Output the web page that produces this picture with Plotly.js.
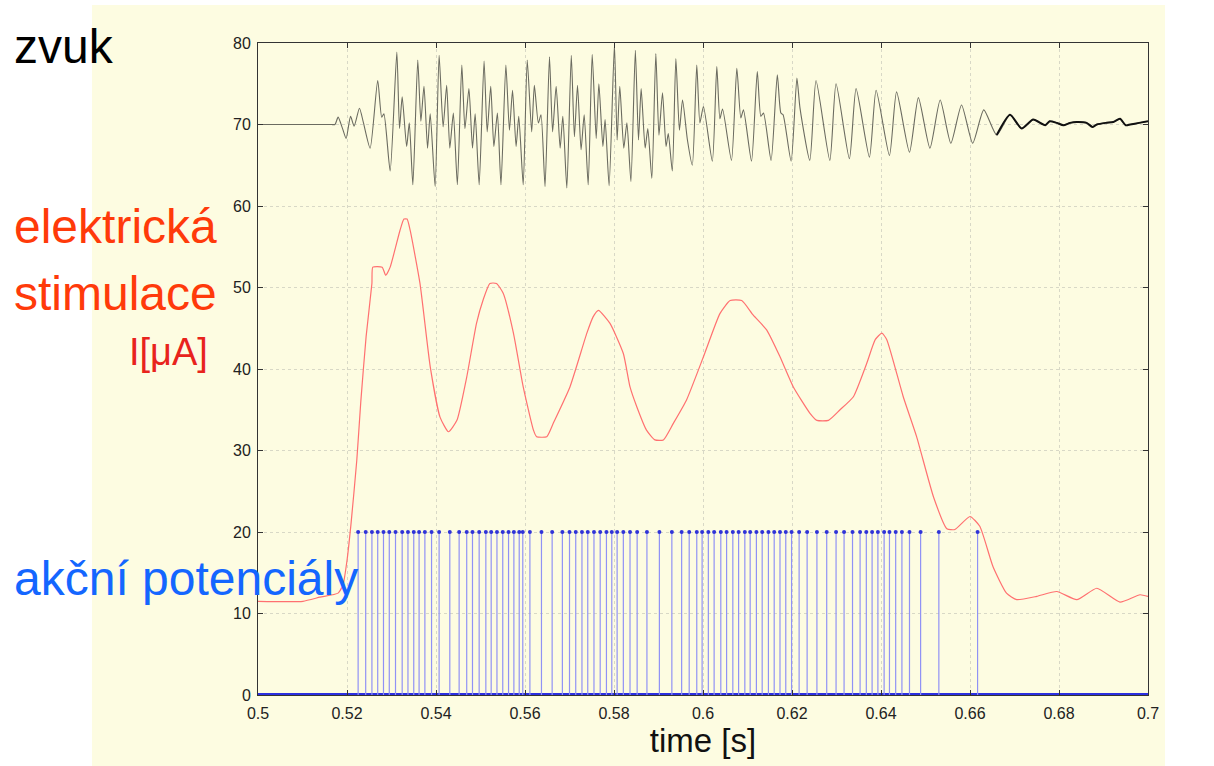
<!DOCTYPE html>
<html>
<head>
<meta charset="utf-8">
<script src="https://cdn.plot.ly/plotly-3.0.1.min.js"></script>
<style>
html,body{margin:0;padding:0;background:#ffffff;}
#chart{width:1214px;height:766px;}
</style>
</head>
<body>
<div id="chart"></div>
<script>
// ---- sound ("zvuk") waveform ----
const soundT = [0.5000,0.5100,0.5165,0.5173,0.5180,0.5190,0.5198,0.5208,0.5216,0.5228,0.5237,0.5252,0.5269,0.5278,0.5283,0.5297,0.5312,0.5318,0.5324,0.5334,0.5340,0.5348,0.5359,0.5366,0.5373,0.5381,0.5387,0.5398,0.5407,0.5416,0.5424,0.5431,0.5439,0.5448,0.5458,0.5465,0.5474,0.5482,0.5488,0.5497,0.5508,0.5515,0.5523,0.5530,0.5538,0.5546,0.5557,0.5565,0.5572,0.5580,0.5586,0.5596,0.5605,0.5615,0.5621,0.5630,0.5636,0.5645,0.5655,0.5662,0.5670,0.5679,0.5685,0.5694,0.5704,0.5711,0.5718,0.5726,0.5733,0.5742,0.5751,0.5760,0.5766,0.5775,0.5780,0.5789,0.5801,0.5807,0.5813,0.5822,0.5829,0.5838,0.5848,0.5855,0.5861,0.5870,0.5876,0.5885,0.5894,0.5901,0.5909,0.5917,0.5922,0.5931,0.5939,0.5947,0.5954,0.5965,0.5976,0.5986,0.5993,0.6001,0.6021,0.6031,0.6038,0.6044,0.6064,0.6076,0.6085,0.6091,0.6109,0.6122,0.6130,0.6136,0.6153,0.6167,0.6175,0.6180,0.6198,0.6211,0.6218,0.6240,0.6254,0.6285,0.6299,0.6329,0.6344,0.6374,0.6389,0.6419,0.6435,0.6464,0.6484,0.6510,0.6533,0.6557,0.6581,0.6606,0.6631,0.6660,0.6690,0.6716,0.6742,0.6769,0.6779,0.6795,0.6810,0.6825,0.6840,0.6862,0.6875,0.6885,0.6905,0.6922,0.6937,0.6950,0.6960,0.6980,0.7000];
const soundV = [70.0,70.0,70.0,70.0,70.9,69.5,68.3,71.0,69.8,72.0,70.2,67.1,75.4,70.9,71.3,64.3,78.9,69.5,73.4,67.3,70.2,62.6,77.9,70.4,74.7,67.1,71.3,62.4,78.5,69.7,74.8,67.1,71.4,62.6,77.3,69.5,74.4,67.1,71.3,62.6,77.8,69.1,74.7,67.3,71.4,62.6,77.3,69.3,74.2,67.3,71.0,62.6,77.9,69.1,74.8,70.2,71.2,62.4,78.3,69.1,74.7,67.1,71.0,62.2,78.5,68.5,74.8,66.9,71.2,62.6,78.6,68.3,75.0,67.3,70.6,62.5,79.8,68.1,74.7,67.1,70.2,63.0,79.1,68.1,74.4,67.1,69.5,63.4,78.7,68.7,73.9,67.3,68.9,64.3,78.1,69.3,73.0,68.1,65.0,77.3,70.2,72.2,65.5,77.1,70.7,71.9,65.6,76.9,70.8,71.8,65.5,76.5,71.0,71.4,65.6,76.1,71.4,71.2,65.5,75.7,72.0,65.6,75.4,65.6,75.0,65.8,74.4,66.0,74.2,66.2,74.0,66.6,73.3,67.1,73.0,67.7,72.4,67.7,71.8,68.7,71.2,69.5,70.6,69.9,70.4,70.2,69.9,70.2,70.3,70.2,69.7,70.0,70.2,70.3,70.7,69.9,70.0,70.2,70.4,70.2];

// ---- electrical stimulation current I [uA] ----
const stimT = [0.5000,0.5101,0.5139,0.5180,0.5191,0.5200,0.5209,0.5222,0.5231,0.5243,0.5256,0.5258,0.5279,0.5287,0.5297,0.5319,0.5328,0.5335,0.5342,0.5364,0.5387,0.5409,0.5428,0.5447,0.5469,0.5491,0.5506,0.5521,0.5536,0.5551,0.5574,0.5596,0.5619,0.5626,0.5649,0.5664,0.5701,0.5739,0.5753,0.5765,0.5791,0.5821,0.5836,0.5851,0.5873,0.5892,0.5911,0.5933,0.5963,0.6001,0.6038,0.6061,0.6087,0.6113,0.6143,0.6173,0.6203,0.6240,0.6256,0.6282,0.6308,0.6338,0.6368,0.6387,0.6402,0.6413,0.6450,0.6480,0.6518,0.6548,0.6566,0.6600,0.6622,0.6652,0.6682,0.6705,0.6750,0.6795,0.6840,0.6885,0.6937,0.6982,0.7000];
const stimV = [11.5,11.5,12.0,12.5,13.5,16.5,21.0,28.8,36.0,44.0,50.5,52.5,52.5,51.5,52.5,57.0,58.4,58.4,57.0,50.5,40.3,34.1,32.3,33.7,39.0,45.6,48.5,50.5,50.5,49.3,44.4,37.8,32.5,31.7,31.7,33.4,37.8,44.4,46.4,47.2,45.6,41.9,37.8,35.4,32.5,31.3,31.3,33.3,36.2,41.5,46.8,48.4,48.4,46.6,44.8,41.5,37.8,34.6,33.7,33.7,35.0,36.6,40.7,43.6,44.4,43.6,36.6,31.7,24.3,20.4,20.3,21.9,20.7,15.7,12.5,11.7,12.1,12.7,11.7,13.1,11.4,12.3,12.1];

// ---- action potentials (spike times, height 20) ----
const spikeT = [0.5225,0.5242,0.5256,0.5269,0.5282,0.5295,0.5309,0.5324,0.5337,0.5350,0.5362,0.5375,0.5390,0.5407,0.5431,0.5452,0.5469,0.5482,0.5497,0.5512,0.5524,0.5537,0.5550,0.5563,0.5575,0.5587,0.5595,0.5611,0.5637,0.5661,0.5684,0.5700,0.5714,0.5728,0.5741,0.5755,0.5769,0.5783,0.5795,0.5807,0.5821,0.5836,0.5852,0.5874,0.5902,0.5930,0.5952,0.5969,0.5986,0.5998,0.6012,0.6025,0.6040,0.6053,0.6067,0.6080,0.6094,0.6106,0.6120,0.6133,0.6147,0.6160,0.6173,0.6186,0.6199,0.6216,0.6234,0.6256,0.6278,0.6299,0.6317,0.6336,0.6353,0.6367,0.6380,0.6393,0.6407,0.6419,0.6433,0.6447,0.6464,0.6489,0.6530,0.6617];
const spikeHeight = 20;
const xRange = [0.5, 0.7];
const yRange = [0, 80];
const xTicks = [0.5,0.52,0.54,0.56,0.58,0.6,0.62,0.64,0.66,0.68,0.7];
const xTickText = ['0.5','0.52','0.54','0.56','0.58','0.6','0.62','0.64','0.66','0.68','0.7'];
const yTicks = [0,10,20,30,40,50,60,70,80];

// build stem geometry from the data
const stemX = [], stemY = [];
spikeT.forEach(t => { stemX.push(t, t, null); stemY.push(0, spikeHeight, null); });
const tailT = soundT.filter(t => t >= 0.666);
const tailV = soundV.filter((v, i) => soundT[i] >= 0.666);

const cream = '#fdfce1';
const traces = [
  {x: xRange, y: [0, 0], mode: 'lines', line: {color: '#2b2fe0', width: 4}, hoverinfo: 'skip'},
  {x: stemX, y: stemY, mode: 'lines', line: {color: '#9092f5', width: 1.2}, hoverinfo: 'skip'},
  {x: spikeT, y: spikeT.map(() => spikeHeight), mode: 'markers', marker: {color: '#2f33d8', size: 4}, hoverinfo: 'skip'},
  {x: stimT, y: stimV, mode: 'lines', line: {color: '#ff7070', width: 1.2, shape: 'spline', smoothing: 0.5}, hoverinfo: 'skip'},
  {x: soundT, y: soundV, mode: 'lines', line: {color: '#6b6b60', width: 1.1, shape: 'spline', smoothing: 0.6}, hoverinfo: 'skip'},
  {x: tailT, y: tailV, mode: 'lines', line: {color: '#111111', width: 2, shape: 'spline', smoothing: 0.6}, hoverinfo: 'skip'}
];

const L = 258, R = 1148, T = 43, B = 695;
const px = x => (x - L) / (R - L);
const py = y => (B - y) / (B - T);
const fam = '"Liberation Sans", Arial, sans-serif';

const layout = {
  width: 1214, height: 766,
  margin: {l: L, r: 1214 - R, t: T, b: 766 - B},
  paper_bgcolor: '#ffffff',
  plot_bgcolor: cream,
  showlegend: false,
  xaxis: {
    range: xRange, tickvals: xTicks, ticktext: xTickText,
    showgrid: true, gridcolor: '#d8d8c6', griddash: 'dot', gridwidth: 1,
    zeroline: false, showline: true, linecolor: '#333333', linewidth: 1, mirror: 'ticks',
    ticks: 'inside', ticklen: 5, tickcolor: '#333333', ticklabelstandoff: 4,
    tickfont: {family: fam, size: 16, color: '#222222'},
    title: {text: 'time [s]', font: {family: fam, size: 33, color: '#111111'}, standoff: 2}
  },
  yaxis: {
    range: yRange, tickvals: yTicks,
    showgrid: true, gridcolor: '#d8d8c6', griddash: 'dot', gridwidth: 1,
    zeroline: false, showline: true, linecolor: '#333333', linewidth: 1, mirror: 'ticks',
    ticks: 'inside', ticklen: 5, tickcolor: '#333333', ticklabelstandoff: 3,
    tickfont: {family: fam, size: 16, color: '#222222'}
  },
  shapes: [
    {type: 'rect', xref: 'paper', yref: 'paper', x0: px(92), x1: px(1165), y0: py(766), y1: py(5),
     fillcolor: cream, line: {width: 0}, layer: 'below'}
  ],
  annotations: [
    {text: 'zvuk', xref: 'paper', yref: 'paper', x: px(13), y: py(47), xanchor: 'left', yanchor: 'middle', showarrow: false, borderpad: 0,
     font: {family: fam, size: 48, color: '#000000'}},
    {text: 'elektrická', xref: 'paper', yref: 'paper', x: px(13), y: py(226), xanchor: 'left', yanchor: 'middle', showarrow: false, borderpad: 0,
     font: {family: fam, size: 48, color: '#ff3a0a'}},
    {text: 'stimulace', xref: 'paper', yref: 'paper', x: px(13), y: py(293), xanchor: 'left', yanchor: 'middle', showarrow: false, borderpad: 0,
     font: {family: fam, size: 48, color: '#ff3a0a'}},
    {text: 'I[μA]', xref: 'paper', yref: 'paper', x: px(209), y: py(352), xanchor: 'right', yanchor: 'middle', showarrow: false, borderpad: 0,
     font: {family: fam, size: 38, color: '#e8231c'}},
    {text: 'akční potenciály', xref: 'paper', yref: 'paper', x: px(13), y: py(578), xanchor: 'left', yanchor: 'middle', showarrow: false, borderpad: 0,
     font: {family: fam, size: 48, color: '#1466ff'}}
  ]
};

Plotly.newPlot('chart', traces, layout, {staticPlot: true, displayModeBar: false});
</script>
</body>
</html>
